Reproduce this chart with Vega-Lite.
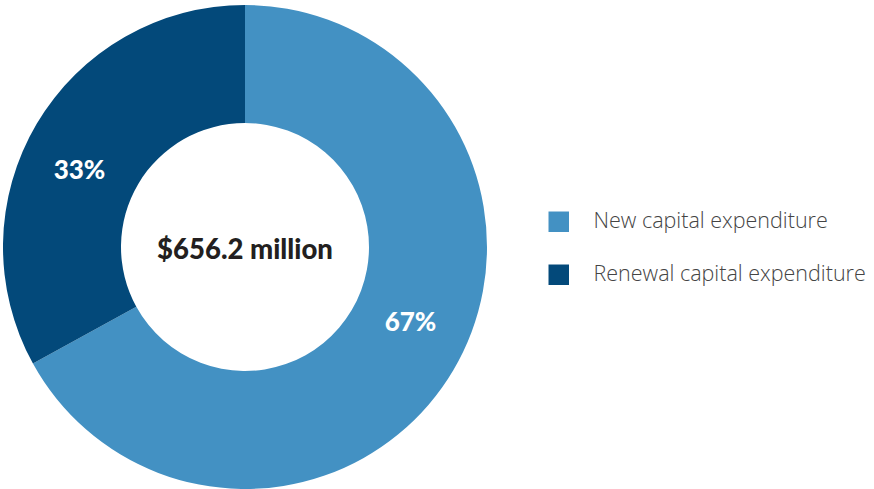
{
  "$schema": "https://vega.github.io/schema/vega-lite/v6.json",
  "width": 490,
  "height": 494,
  "padding": 0,
  "background": "white",
  "config": {"view": {"stroke": null}},
  "data": {"values": [
    {"category": "New capital expenditure", "value": 67, "label": "67%"},
    {"category": "Renewal capital expenditure", "value": 33, "label": "33%"}
  ]},
  "layer": [
    {
      "mark": {"type": "arc", "outerRadius": 242, "innerRadius": 124},
      "encoding": {
        "theta": {"field": "value", "type": "quantitative", "stack": true},
        "order": {"field": "value", "sort": "descending"},
        "color": {
          "field": "category", "type": "nominal",
          "scale": {"domain": ["New capital expenditure", "Renewal capital expenditure"], "range": ["#4391C3", "#03497A"]},
          "legend": {
            "title": null, "orient": "none", "legendX": 548, "legendY": 211,
            "symbolType": "square", "symbolSize": 420, "symbolStrokeWidth": 0,
            "labelFont": "Open Sans", "labelFontSize": 21.5, "labelFontWeight": 300, "labelColor": "#444444",
            "labelOffset": 24, "rowPadding": 30, "labelLimit": 400
          }
        }
      }
    },
    {
      "mark": {"type": "text", "radius": 182, "thetaOffset": -0.105, "font": "Lato", "fontWeight": 900, "fontSize": 26, "color": "white"},
      "encoding": {
        "theta": {"field": "value", "type": "quantitative", "stack": true},
        "order": {"field": "value", "sort": "descending"},
        "text": {"field": "label"}
      }
    },
    {
      "data": {"values": [{"t": "$656.2 million"}]},
      "mark": {"type": "text", "font": "Lato", "fontWeight": 900, "fontSize": 27.5, "color": "#231f20", "dy": 4},
      "encoding": {"text": {"field": "t"}}
    }
  ]
}
